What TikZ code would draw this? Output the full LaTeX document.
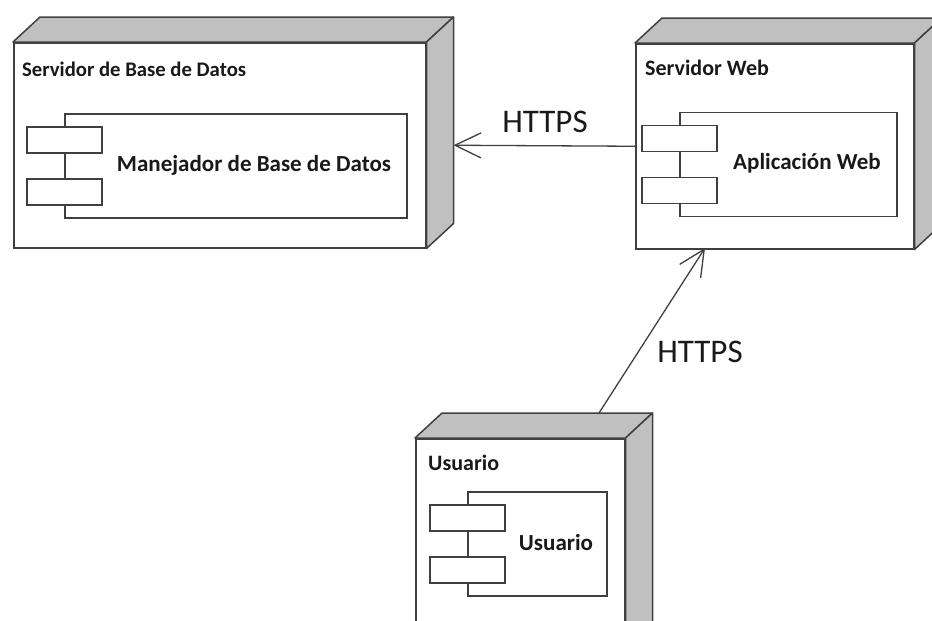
\documentclass[tikz,border=0pt]{standalone}
\usepackage{fontspec}
\setmainfont{Carlito}
\usetikzlibrary{arrows.meta}
\definecolor{edgegray}{RGB}{64,64,64}
\definecolor{facegray}{RGB}{192,192,192}
\definecolor{textblack}{RGB}{25,25,25}

\begin{document}
\begin{tikzpicture}
[x=1pt, y=-1pt,
hostbox/.style={rectangle, draw=edgegray, fill=white, line width=1.5pt, inner sep=0pt, anchor=north west},
facebox/.style={draw=edgegray, fill=facegray, line width=1.5pt, line join=round},
compbox/.style={rectangle, draw=edgegray, fill=white, line width=1.2pt, inner sep=0pt, minimum height=104pt},
portbox/.style={rectangle, draw=edgegray, fill=white, line width=1.2pt, inner sep=0pt, minimum width=75pt, minimum height=26pt},
hosttitle/.style={anchor=west, inner sep=0pt, text=textblack, font=\bfseries\fontsize{22}{26}\selectfont},
comptitle/.style={inner sep=0pt, text=textblack, font=\bfseries\fontsize{23}{27}\selectfont},
linklabel/.style={inner sep=0pt, text=textblack, font=\fontsize{33}{39}\selectfont},
linkarrow/.style={draw=edgegray, line width=1.3pt, -{Straight Barb[length=26pt, width=25pt]}}
]
\clip (0,0) rectangle (932,621);
\fill[white] (0,0) rectangle (932,621);

%servidor de base de datos
\node at (13,42) [hostbox, minimum width=412pt, minimum height=205pt] (db) {};
\node at (22,69) [hosttitle, font=\bfseries\fontsize{20.7}{25}\selectfont] (dbtitle) {Servidor de Base de Datos};
\node at (236,166) [compbox, minimum width=342pt] (dbcomp) {};
\node at ([yshift=26pt]dbcomp.west) [portbox] (dbport1) {};
\node at ([yshift=-26pt]dbcomp.west) [portbox] (dbport2) {};
\node at (254,165) [comptitle] (dbname) {Manejador de Base de Datos};

%servidor web
\node at (635,43) [hostbox, minimum width=278pt, minimum height=205pt] (web) {};
\node at (645,68) [hosttitle] (webtitle) {Servidor Web};
\node at (788.5,164.5) [compbox, minimum width=217pt] (webcomp) {};
\node at ([yshift=26pt]webcomp.west) [portbox] (webport1) {};
\node at ([yshift=-26pt]webcomp.west) [portbox] (webport2) {};
\node at (807,163) [comptitle] (webname) {Aplicación Web};

%usuario
\node at (415,438) [hostbox, minimum width=209pt, minimum height=230pt] (usr) {};
\node at (428,463) [hosttitle] (usrtitle) {Usuario};
\node at (537.5,544) [compbox, minimum width=139pt] (usrcomp) {};
\node at ([yshift=26pt]usrcomp.west) [portbox] (usrport1) {};
\node at ([yshift=-26pt]usrcomp.west) [portbox] (usrport2) {};
\node at (556,543) [comptitle] (usrname) {Usuario};

%3d faces
\foreach \n in {db,web,usr}{
  \draw[facebox] (\n.north west) -- ++(27,-25) -- ([shift={(27pt,25pt)}]\n.north east) -- (\n.north east) -- cycle;
  \draw[facebox] (\n.north east) -- ++(27,-25) -- ([shift={(27pt,25pt)}]\n.south east) -- (\n.south east) -- cycle;
}

%links
\coordinate (dbback) at ([xshift=27pt]db.east);
\coordinate (usrback) at (599,413);
\coordinate (webbottom) at (705,248);
\draw[linkarrow] (web.west) -- (dbback);
\draw[linkarrow] (usrback) -- (webbottom);
\node at (545,122) [linklabel] (link1) {HTTPS};
\node at (700,352) [linklabel] (link2) {HTTPS};

\end{tikzpicture}
\end{document}
